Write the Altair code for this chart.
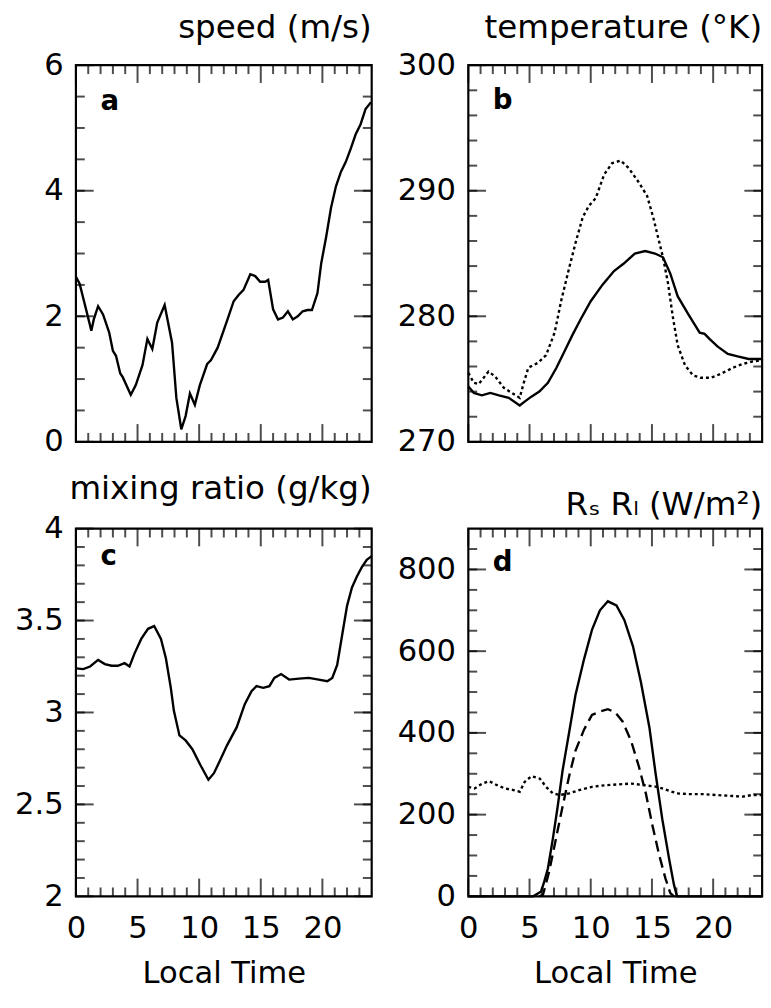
import altair as alt
import pandas as pd

FONT = "DejaVu Sans"

# ---------------- data ----------------
# panel a: wind speed (m/s)
speed_t = [0, 0.3, 0.9, 1.25, 1.45, 1.8, 2.2, 2.7, 3.0, 3.25,
           3.6, 3.8, 4.45, 4.85, 5.4, 5.8, 6.2, 6.6, 7.2, 7.8,
           8.15, 8.55, 8.9, 9.25, 9.65, 10.05, 10.65, 10.95, 11.5, 12.3,
           12.8, 13.2, 13.6, 14.15, 14.55, 14.95, 15.35, 15.6, 16.0, 16.4,
           16.8, 17.2, 17.6, 18.0, 18.4, 18.8, 19.15, 19.6, 19.9, 20.3,
           20.7, 21.1, 21.5, 21.9, 22.3, 22.7, 23.1, 23.5, 23.9, 24]
speed_v = [2.63, 2.52, 2.05, 1.77, 1.95, 2.16, 2.03, 1.74, 1.45, 1.37,
           1.09, 1.03, 0.75, 0.9, 1.22, 1.64, 1.48, 1.9, 2.18, 1.58,
           0.7, 0.2, 0.41, 0.77, 0.59, 0.9, 1.24, 1.3, 1.5, 1.95,
           2.24, 2.34, 2.42, 2.67, 2.64, 2.55, 2.55, 2.58, 2.11, 1.95,
           1.98, 2.08, 1.95, 2.0, 2.08, 2.1, 2.1, 2.37, 2.84, 3.26,
           3.73, 4.07, 4.3, 4.46, 4.67, 4.9, 5.06, 5.3, 5.4, 5.4]

# panel b: temperature (K), solid and dotted
temp1_t = [0, 0.45, 1.1, 1.8, 2.5, 3.3, 4.2, 4.6, 5.15, 5.8,
           6.5, 7.2, 7.85, 8.5, 9.2, 10.0, 10.95, 11.9, 12.7, 13.6,
           14.45, 15.25, 15.9, 16.5, 17.1, 17.95, 18.9, 19.3, 19.7, 20.35,
           21.2, 22.0, 22.9, 24]
temp1_v = [274.4, 273.9, 273.7, 273.9, 273.7, 273.5, 272.9, 273.2, 273.6, 274.0,
           274.7, 275.9, 277.2, 278.5, 279.8, 281.2, 282.5, 283.6, 284.2, 285.0,
           285.2, 285.0, 284.7, 283.4, 281.6, 280.2, 278.7, 278.6, 278.2, 277.6,
           277.0, 276.8, 276.6, 276.6]
temp2_t = [0, 0.45, 0.85, 1.65, 2.2, 2.9, 3.55, 4.2, 4.5, 4.9,
           5.7, 6.35, 7.05, 7.6, 8.25, 8.8, 9.35, 9.85, 10.4, 11.1,
           11.75, 12.45, 13.1, 13.9, 14.6, 15.1, 15.5, 15.9, 16.3, 16.7,
           17.1, 17.7, 18.35, 19.0, 19.8, 20.6, 21.6, 22.4, 23.2, 24]
temp2_v = [275.5, 274.7, 274.6, 275.6, 275.2, 274.3, 273.9, 273.5, 274.6, 275.9,
           276.3, 276.9, 278.7, 281.3, 283.9, 286.0, 287.9, 288.8, 289.4, 291.3,
           292.2, 292.4, 291.8, 290.7, 289.6, 287.9, 286.3, 284.7, 282.7, 280.0,
           277.7, 276.1, 275.3, 275.1, 275.1, 275.4, 275.9, 276.2, 276.4, 276.5]

# panel c: mixing ratio (g/kg)
mix_t = [0, 0.6, 1.15, 1.8, 2.35, 2.9, 3.4, 3.95, 4.35, 4.75,
         5.3, 5.85, 6.35, 6.9, 7.3, 7.7, 7.95, 8.4, 8.9, 9.45,
         10.1, 10.75, 11.2, 11.7, 12.25, 13.05, 13.7, 14.25, 14.65, 15.2,
         15.7, 16.1, 16.65, 17.3, 18.1, 18.9, 19.7, 20.4, 20.8, 21.2,
         21.6, 22.0, 22.4, 22.8, 23.2, 23.6, 24]
mix_v = [3.24, 3.236, 3.25, 3.286, 3.263, 3.254, 3.254, 3.268, 3.25, 3.32,
         3.40, 3.455, 3.47, 3.40, 3.295, 3.134, 3.009, 2.875, 2.848, 2.80,
         2.714, 2.634, 2.67, 2.74, 2.82, 2.92, 3.045, 3.116, 3.143, 3.134,
         3.143, 3.188, 3.209, 3.179, 3.184, 3.188, 3.179, 3.17, 3.188, 3.259,
         3.42, 3.58, 3.68, 3.74, 3.79, 3.83, 3.85]

# panel d: radiation (W/m2): solid, dashed, dotted
rs_t = [0, 5.3, 5.95, 6.2, 6.5, 6.9, 7.3, 7.7, 8.25, 8.75,
        9.45, 10.1, 10.75, 11.4, 12.1, 12.75, 13.45, 14.1, 14.8, 15.3,
        15.85, 16.4, 16.8, 17.05, 24]
rs_v = [0, 0, 12, 36, 68, 140, 220, 308, 404, 492,
        580, 652, 700, 722, 712, 676, 612, 524, 412, 300,
        188, 92, 28, 0, 0]
rn_t = [5.8, 6.1, 6.6, 7.15, 7.7, 8.25, 8.75, 9.45, 10.1, 10.75,
        11.4, 12.0, 12.6, 13.3, 13.95, 14.5, 15.05, 15.6, 16.1, 16.5, 16.8]
rn_v = [0, 4, 60, 140, 220, 296, 356, 408, 444, 452,
        458, 450, 428, 380, 316, 252, 172, 100, 44, 8, 0]
rl_t = [0, 0.5, 1.15, 1.7, 2.35, 3.0, 3.7, 4.2, 4.6, 5.15,
        5.85, 6.35, 6.9, 7.45, 8.25, 9.05, 10.1, 11.2, 12.25, 13.3,
        14.4, 15.45, 16.25, 17.05, 18.1, 19.2, 20.25, 21.35, 22.4, 23.2, 24]
rl_v = [268, 264, 276, 282, 272, 264, 260, 256, 280, 294,
        288, 268, 252, 248, 252, 260, 268, 272, 274, 276,
        272, 268, 260, 252, 250, 250, 248, 246, 244, 248, 248]

# axes / labels
x_major = [0, 5, 10, 15, 20]
x_minor = [h for h in range(1, 24) if h % 5]
titles = ["speed (m/s)", "temperature (°K)", "mixing ratio (g/kg)", "Rₛ Rₗ (W/m²)"]
title_offsets = [-21, -21, -19, -19]
letters = ["a", "b", "c", "d"]
letter_x = [2.0, 2.0, 2.0, 2.0]
letter_y = [5.29, 296.5, 3.80, 796]
y_domains = [[0, 6], [270, 300], [2, 4], [0, 900]]
y_majors = [[0, 2, 4, 6], [270, 280, 290, 300], [2, 2.5, 3, 3.5, 4], [0, 200, 400, 600, 800]]
y_minors = [[0.5 * k for k in range(1, 12)], list(range(272, 300, 2)),
            [round(2 + 0.1 * k, 1) for k in range(1, 20)], list(range(50, 900, 50))]

MAJ, MIN = 18, 9


def df(t, v):
    return pd.DataFrame({"t": t, "v": v})


def panel(i, series, width, height, bottom_labels):
    xs = alt.Scale(domain=[0, 24], nice=False, zero=False)
    ys = alt.Scale(domain=y_domains[i], nice=False, zero=False)
    y0, y1 = y_domains[i]
    layers = []

    y_axis = alt.Axis(values=y_majors[i], ticks=False, domain=False, grid=False,
                      labelFont=FONT, labelFontSize=31, labelColor="black", labelPadding=13,
                      labelFlush=False, labelOverlap=False, format="~f",
                      minExtent=75, maxExtent=75, title=None)
    if bottom_labels:
        x_axis = alt.Axis(values=x_major, ticks=False, domain=False, grid=False,
                          labelFont=FONT, labelFontSize=31, labelColor="black",
                          labelPadding=18, labelFlush=False, labelOverlap=False,
                          minExtent=50, maxExtent=50, title="Local Time",
                          titleFont=FONT, titleFontSize=31, titleFontWeight="normal",
                          titleColor="black", titlePadding=13)
    else:
        x_axis = None

    for k, (d, dash) in enumerate(series):
        mk = dict(color="black", strokeWidth=2.4)
        if dash:
            mk["strokeDash"] = dash
        layers.append(alt.Chart(d).mark_line(**mk).encode(
            x=alt.X("t:Q", scale=xs, axis=x_axis if k == 0 else None),
            y=alt.Y("v:Q", scale=ys, axis=y_axis if k == 0 else None)))

    # inward tick marks on all four sides of the frame
    def xticks(values, size):
        d = pd.DataFrame({"t": values})
        out = []
        for edge, sgn in ((y0, -1), (y1, 1)):
            out.append(alt.Chart(d).mark_tick(orient="vertical", size=size, thickness=2,
                                              color="black", yOffset=sgn * size / 2).encode(
                x=alt.X("t:Q", scale=xs, axis=None),
                y=alt.YDatum(edge, type="quantitative", scale=ys, axis=None)))
        return out

    def yticks(values, size):
        d = pd.DataFrame({"v": values})
        out = []
        for edge, sgn in ((0, 1), (24, -1)):
            out.append(alt.Chart(d).mark_tick(orient="horizontal", size=size, thickness=2,
                                              color="black", xOffset=sgn * size / 2).encode(
                y=alt.Y("v:Q", scale=ys, axis=None),
                x=alt.XDatum(edge, type="quantitative", scale=xs, axis=None)))
        return out

    layers += xticks(x_major, MAJ) + xticks(x_minor, MIN)
    layers += yticks(y_majors[i], MAJ) + yticks(y_minors[i], MIN)

    lab = pd.DataFrame({"t": [letter_x[i]], "v": [letter_y[i]], "lab": [letters[i]]})
    layers.append(alt.Chart(lab).mark_text(align="left", baseline="alphabetic", font=FONT,
                                           fontSize=28, fontWeight="bold", color="black").encode(
        x=alt.X("t:Q", scale=xs, axis=None),
        y=alt.Y("v:Q", scale=ys, axis=None),
        text="lab:N"))
    return alt.layer(*layers).resolve_axis(x="independent", y="independent").properties(
        width=width, height=height,
        title=alt.TitleParams(text=titles[i], anchor="end", frame="group", font=FONT,
                              fontSize=33, fontWeight="normal", color="black",
                              baseline="alphabetic", offset=title_offsets[i]))


DOT = [3, 3]
DASH = [11, 6]

pa = panel(0, [(df(speed_t, speed_v), None)], 300, 382, False)
pb = panel(1, [(df(temp1_t, temp1_v), None), (df(temp2_t, temp2_v), DOT)], 298, 382, False)
pc = panel(2, [(df(mix_t, mix_v), None)], 300, 373, True)
pd_ = panel(3, [(df(rs_t, rs_v), None), (df(rn_t, rn_v), DASH), (df(rl_t, rl_v), DOT)], 298, 373, True)

chart = alt.vconcat(
    alt.hconcat(pa, pb, spacing=15),
    alt.hconcat(pc, pd_, spacing=15),
    spacing=13,
).properties(
    padding={"left": 0, "top": 3, "right": 3, "bottom": 3},
    background="white",
).configure_view(stroke="black", strokeWidth=2.2)

chart.save("out.html", embed_options={"renderer": "svg", "actions": False})
